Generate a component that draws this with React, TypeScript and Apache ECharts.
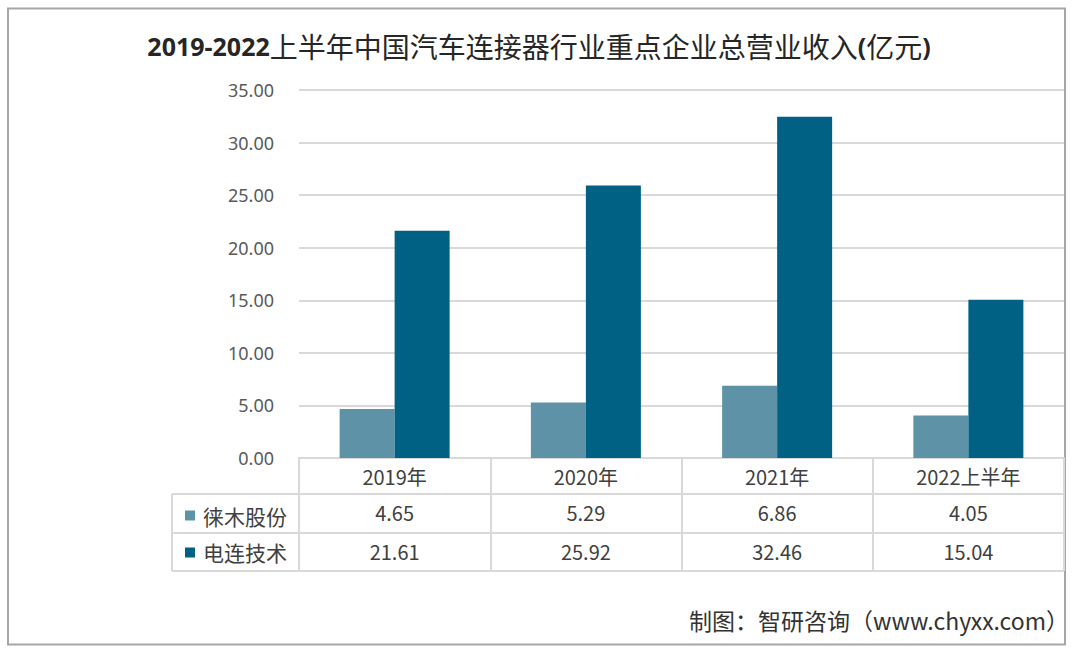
import React, { useEffect, useRef } from "react";
import * as echarts from "echarts";

const categories = ["2019年", "2020年", "2021年", "2022上半年"];
const seriesNames = ["徕木股份", "电连技术"];
const laimuValues = [4.65, 5.29, 6.86, 4.05];
const dianlianValues = [21.61, 25.92, 32.46, 15.04];
const colors = ["#5E92A7", "#006184"];

const GRID_LEFT = 299;
const GRID_RIGHT_X = 1064;
const GRID_TOP = 90;
const GRID_BOTTOM_Y = 458;
const ROW_H = 38;
const TABLE_LEFT = 172;

export default function App() {
  const ref = useRef<HTMLDivElement>(null);
  useEffect(() => {
    if (!ref.current) return;
    const chart = echarts.init(ref.current, null, { renderer: "svg" });
    const font = "'Noto Sans CJK SC', 'Noto Sans', sans-serif";
    const lineColor = "#D9D9D9";
    const row1 = GRID_BOTTOM_Y + 36;
    const row2 = row1 + ROW_H + 1;
    const row3 = row2 + ROW_H;
    const baseXAxis = {
      type: "category" as const,
      data: categories,
      gridIndex: 0,
      position: "bottom" as const,
      axisLine: { show: false },
      axisTick: { show: false },
      axisLabel: {
        fontFamily: font,
        fontSize: 20,
        color: "#404040",
        verticalAlign: "middle" as const,
        margin: 18,
        interval: 0,
      },
    };
    chart.setOption({
      animation: false,
      backgroundColor: "#fff",
      title: {
        text: "{b|2019-2022}{n|上半年中国汽车连接器行业重点企业总营业收入}{b|(}{n|亿元}{b|)}",
        left: 534,
        textAlign: "center",
        top: 27,
        textStyle: {
          rich: {
            b: { fontFamily: "'Noto Sans', sans-serif", fontWeight: "bold", fontSize: 25, color: "#262626" },
            n: { fontFamily: font, fontWeight: "normal", fontSize: 28, color: "#262626" },
          },
        },
      },
      legend: {
        orient: "vertical",
        left: 180,
        top: row1 + 6,
        itemWidth: 10,
        itemHeight: 10,
        itemGap: 16,
        icon: "rect",
        selectedMode: false,
        textStyle: { fontFamily: font, fontSize: 21, color: "#404040", padding: [0, 0, 0, 3] },
        data: seriesNames,
      },
      grid: {
        left: GRID_LEFT,
        right: 1072 - GRID_RIGHT_X,
        top: GRID_TOP,
        bottom: 649 - GRID_BOTTOM_Y,
        containLabel: false,
      },
      xAxis: [
        {
          ...baseXAxis,
          axisLine: { show: true, lineStyle: { color: lineColor, width: 2 } },
          axisTick: {
            show: true,
            length: row3 - GRID_BOTTOM_Y,
            lineStyle: { color: lineColor, width: 2 },
          },
        },
        {
          ...baseXAxis,
          offset: row1 - GRID_BOTTOM_Y,
          axisLabel: {
            ...baseXAxis.axisLabel,
            formatter: (_v: string, i: number) => laimuValues[i].toFixed(2),
          },
        },
        {
          ...baseXAxis,
          offset: row2 - GRID_BOTTOM_Y,
          axisLabel: {
            ...baseXAxis.axisLabel,
            formatter: (_v: string, i: number) => dianlianValues[i].toFixed(2),
          },
        },
      ],
      yAxis: {
        type: "value",
        min: 0,
        max: 35,
        interval: 5,
        axisLine: { show: false },
        axisTick: { show: false },
        splitLine: { lineStyle: { color: lineColor, width: 2 } },
        axisLabel: {
          formatter: (v: number) => v.toFixed(2),
          fontFamily: "'Noto Sans', sans-serif",
          fontSize: 18,
          color: "#595959",
          margin: 25,
        },
      },
      series: [
        {
          name: seriesNames[0],
          type: "bar",
          data: laimuValues,
          barWidth: 55,
          barGap: "0%",
          itemStyle: { color: colors[0] },
        },
        {
          name: seriesNames[1],
          type: "bar",
          data: dianlianValues,
          barWidth: 55,
          barGap: "0%",
          itemStyle: { color: colors[1] },
        },
      ],
      graphic: [
        {
          type: "rect",
          shape: { x: 8, y: 8.5, width: 1057, height: 636 },
          style: { fill: "none", stroke: "#A6A6A6", lineWidth: 2 },
          silent: true,
        },
        ...[row1, row2, row3].map((y) => ({
          type: "line",
          shape: { x1: TABLE_LEFT, y1: y, x2: GRID_RIGHT_X, y2: y },
          style: { stroke: lineColor, lineWidth: 2 },
          silent: true,
        })),
        {
          type: "line",
          shape: { x1: TABLE_LEFT, y1: row1, x2: TABLE_LEFT, y2: row3 },
          style: { stroke: lineColor, lineWidth: 2 },
          silent: true,
        },
        {
          type: "text",
          right: 3,
          top: 608,
          style: {
            text: "制图：智研咨询（www.chyxx.com）",
            fontFamily: font,
            fontSize: 23,
            fill: "#333333",
          },
          silent: true,
        },
      ],
    });
    return () => chart.dispose();
  }, []);
  return (
    <div
      ref={ref}
      style={{ position: "absolute", left: 0, top: 0, width: 1072, height: 649 }}
    />
  );
}
